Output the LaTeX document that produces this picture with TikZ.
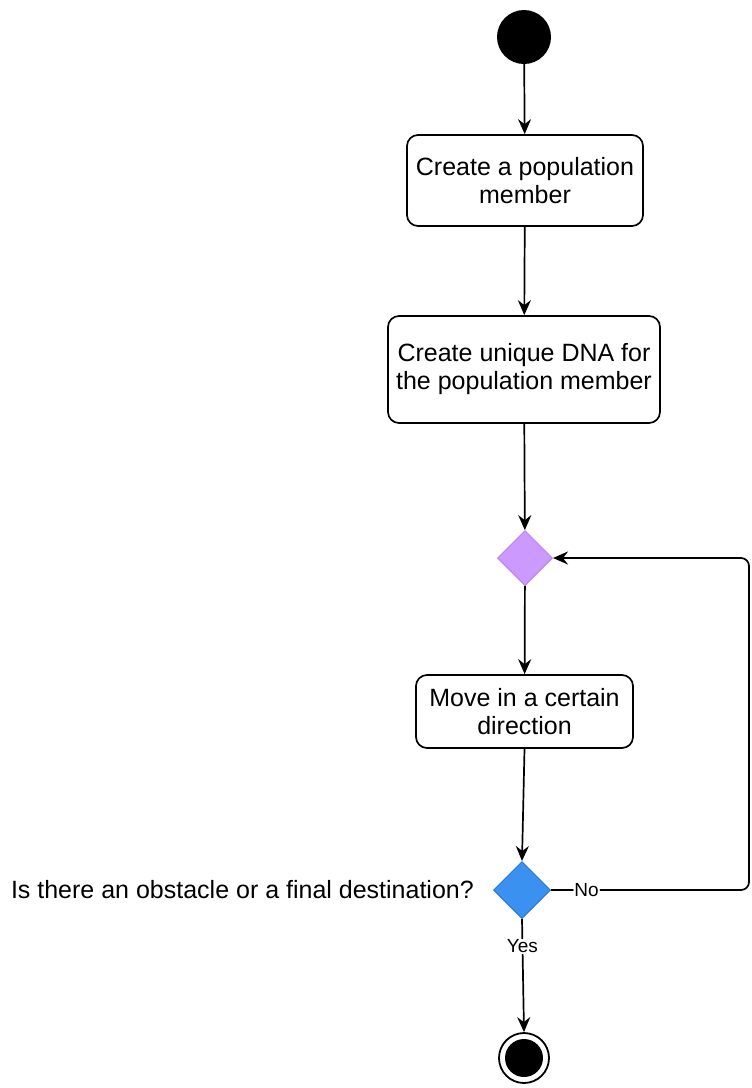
\documentclass[tikz,border=0pt]{standalone}
\usepackage{fontspec}
\setmainfont{Liberation Sans}
\usetikzlibrary{shapes.geometric,arrows.meta}
\begin{document}
\begin{tikzpicture}[x=1pt,y=-1pt,
  box/.style={draw=black,line width=1.7pt,rounded corners=11pt,fill=white,align=center,inner sep=0pt,font=\fontsize{25}{28}\selectfont},
  dia/.style={diamond,inner sep=0pt,minimum width=#1,minimum height=#1,line width=1pt},
  conn/.style={line width=1.7pt,-{Stealth[length=15pt,width=13pt,inset=5pt]}},
  lbl/.style={font=\fontsize{19}{22}\selectfont,fill=white,inner sep=1pt}]
\useasboundingbox (0,0) rectangle (752,1088);
\node[circle,fill=black,minimum size=54pt,inner sep=0pt] (start) at (524,37) {};
\node[box,minimum width=236pt,minimum height=91pt] (b1) at (525,180.5) {Create a population\\member};
\node[box,minimum width=272pt,minimum height=107pt] (b2) at (524,369.5) {Create unique DNA for\\the population member};
\node[dia=55pt,fill={rgb,255:red,204;green,153;blue,255},draw={rgb,255:red,185;green,130;blue,245}] (d1) at (525,558) {};
\node[box,minimum width=217pt,minimum height=73pt] (b3) at (524.5,711.5) {Move in a certain\\direction};
\node[dia=57pt,fill={rgb,255:red,58;green,145;blue,240},draw={rgb,255:red,40;green,120;blue,220}] (d2) at (522,890) {};
\node[anchor=east,font=\fontsize{25}{28}\selectfont,inner sep=0pt] (q) at (474,890) {Is there an obstacle or a final destination?};
\node[circle,draw=black,line width=1.8pt,minimum size=50pt,inner sep=0pt] (end) at (524,1058) {};
\node[circle,fill=black,minimum size=38pt,inner sep=0pt] (endin) at (end.center) {};
\coordinate (c1) at (749,890);
\coordinate (c2) at (749,558);
\draw[conn] (start) -- (b1);
\draw[conn] (b1) -- (b2);
\draw[conn] (b2) -- (d1);
\draw[conn] (d1) -- (b3);
\draw[conn] (b3.south) -- (d2.north);
\draw[conn,rounded corners=8pt] (d2.east) -- node[lbl,pos=0.18] {No} (c1) -- (c2) -- (d1.east);
\draw[conn] (d2.south) -- node[lbl,pos=0.24] {Yes} (end.north);
\end{tikzpicture}
\end{document}
